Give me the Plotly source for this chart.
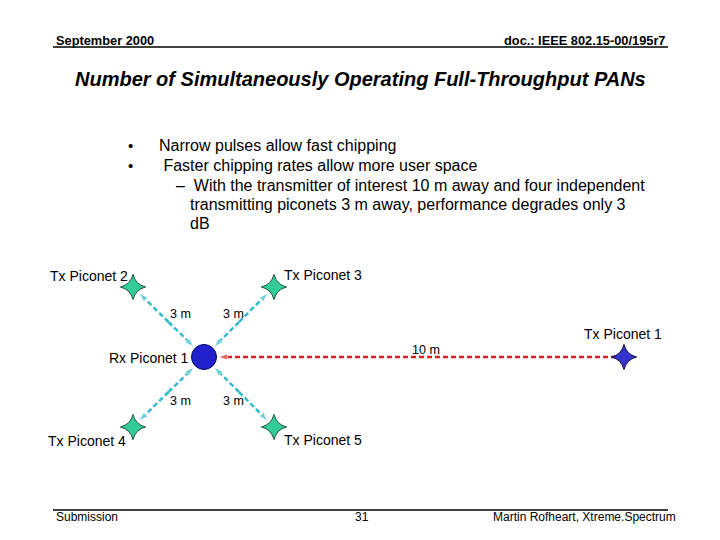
import plotly.graph_objects as go

# Data
node_names = ["Rx Piconet 1", "Tx Piconet 1", "Tx Piconet 2", "Tx Piconet 3", "Tx Piconet 4", "Tx Piconet 5"]
node_x = [204, 624, 133, 274, 133, 274]
node_y = [357, 357, 287, 287, 427, 427]
distances = ["10 m", "3 m", "3 m", "3 m", "3 m"]
bullets = ["Narrow pulses allow fast chipping", " Faster chipping rates allow more user space"]

F = "Liberation Sans, Arial, sans-serif"
fig = go.Figure()

def seg(x0, y0, x1, y1, color):
    fig.add_trace(go.Scatter(x=[x0, x1], y=[y0, y1], mode="lines+markers",
        line=dict(color=color, width=2.5, dash="5px,3px"),
        marker=dict(symbol="arrow", size=[0, 10], angleref="previous", color=color),
        hoverinfo="skip", showlegend=False))

rx, ry = node_x[0], node_y[0]
seg(node_x[1] - 8, ry, rx + 14, ry, "#e02020")
for i in range(2, 6):
    tx, ty = node_x[i], node_y[i]
    dx = 1 if tx > rx else -1
    dy = 1 if ty > ry else -1
    mx, my = (tx + rx) / 2, (ty + ry) / 2
    seg(mx, my, rx + dx * 10, ry + dy * 10, "#33bbcc")
    seg(mx, my, tx - dx * 6, ty - dy * 6, "#33bbcc")

fig.add_trace(go.Scatter(x=[rx], y=[ry], mode="markers",
    marker=dict(size=25, color="#2222cc", line=dict(color="#000066", width=1)),
    hoverinfo="skip", showlegend=False))
fig.add_trace(go.Scatter(x=node_x[2:], y=node_y[2:], mode="markers",
    marker=dict(symbol="star-diamond", size=18, color="#33cc99", line=dict(color="#225544", width=1)),
    hoverinfo="skip", showlegend=False))
fig.add_trace(go.Scatter(x=[node_x[1]], y=[node_y[1]], mode="markers",
    marker=dict(symbol="star-diamond", size=18, color="#3333cc", line=dict(color="#111144", width=1)),
    hoverinfo="skip", showlegend=False))

def txt(x, y, s, size=14, anchor="left", bold=False, italic=False):
    if bold: s = "<b>" + s + "</b>"
    if italic: s = "<i>" + s + "</i>"
    fig.add_annotation(x=x, y=y, text=s, showarrow=False, xanchor=anchor, yanchor="middle",
        font=dict(family=F, size=size, color="black"))

txt(54, 40, "September 2000", 12.8, bold=True)
txt(667, 40, "doc.: IEEE 802.15-00/195r7", 12.8, "right", bold=True)
txt(360, 79, "Number of Simultaneously Operating Full-Throughput PANs", 20, "center", bold=True, italic=True)
txt(126, 145, "•", 15); txt(126, 165, "•", 15)
txt(157, 145, bullets[0], 16); txt(157, 165, bullets[1], 16)
txt(174, 185, "–  With the transmitter of interest 10 m away and four independent", 16)
txt(188, 204, "transmitting piconets 3 m away, performance degrades only 3", 16)
txt(188, 223, "dB", 16)

txt(130, 276, node_names[2], 14, "right")
txt(282, 275, node_names[3], 14)
txt(664, 334, node_names[1], 14, "right")
txt(191, 358, node_names[0], 14, "right")
txt(128, 441, node_names[4], 14, "right")
txt(282, 440, node_names[5], 14)
txt(426, 350, distances[0], 12.5, "center")
txt(180, 314, distances[1], 12.5, "center"); txt(233, 314, distances[2], 12.5, "center")
txt(180, 401, distances[3], 12.5, "center"); txt(233, 401, distances[4], 12.5, "center")

txt(54, 517, "Submission", 12)
txt(362, 517, "31", 12, "center")
txt(678, 517, "Martin Rofheart, Xtreme.Spectrum", 12, "right")

fig.add_shape(type="line", x0=53, x1=668, y0=47, y1=47, line=dict(color="black", width=1.5))
fig.add_shape(type="line", x0=53, x1=668, y0=510, y1=510, line=dict(color="black", width=1.5))

fig.update_layout(width=712, height=532, margin=dict(l=0, r=0, t=0, b=0),
    plot_bgcolor="white", paper_bgcolor="white",
    xaxis=dict(range=[8, 720], visible=False, fixedrange=True),
    yaxis=dict(range=[540, 8], visible=False, fixedrange=True))
fig.write_html("out.html")
